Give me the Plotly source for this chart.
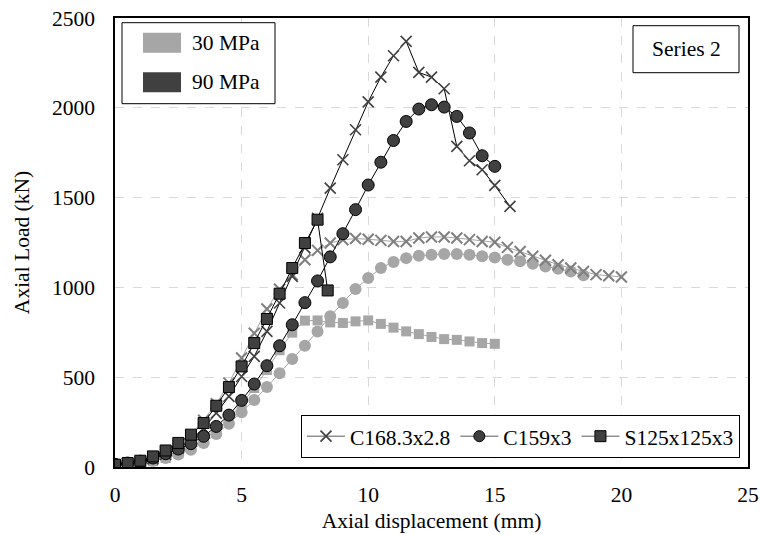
import plotly.graph_objects as go

# ---------------- data ----------------
x_c168_90 = [0, 0.5, 1, 1.5, 2, 2.5, 3, 3.5, 4, 4.5, 5, 5.5, 6, 6.5, 7, 7.5, 8, 8.5, 9, 9.5,
             10, 10.5, 11, 11.5, 12, 12.5, 13, 13.5, 14, 14.5, 15, 15.6]
y_c168_90 = [10, 18, 28, 45, 70, 105, 150, 215, 300, 393, 504, 616, 755, 913, 1061, 1220, 1385, 1553, 1711, 1878,
             2033, 2171, 2290, 2370, 2197, 2171, 2106, 1785, 1705, 1655, 1568, 1451]

x_c159_90 = [0, 0.5, 1, 1.5, 2, 2.5, 3, 3.5, 4, 4.5, 5, 5.5, 6, 6.5, 7, 7.5, 8, 8.5, 9, 9.5,
             10, 10.5, 11, 11.5, 12, 12.5, 13, 13.5, 14, 14.5, 15]
y_c159_90 = [15, 22, 32, 50, 74, 100, 130, 171, 226, 289, 371, 462, 564, 675, 792, 915, 1036, 1170, 1299, 1433,
             1570, 1697, 1818, 1924, 1993, 2017, 2004, 1952, 1860, 1733, 1674]

x_s125_90 = [0, 0.5, 1, 1.5, 2, 2.5, 3, 3.5, 4, 4.5, 5, 5.5, 6, 6.5, 7, 7.5, 8, 8.4]
y_s125_90 = [13, 22, 35, 59, 92, 134, 180, 245, 341, 445, 560, 690, 824, 965, 1108, 1247, 1377, 983]

x_c168_30 = [0, 0.5, 1, 1.5, 2, 2.5, 3, 3.5, 4, 4.5, 5, 5.5, 6, 6.5, 7, 7.5, 8, 8.5, 9, 9.5,
             10, 10.5, 11, 11.5, 12, 12.5, 13, 13.5, 14, 14.5, 15, 15.5, 16, 16.5, 17, 17.5, 18, 18.5,
             19, 19.5, 20]
y_c168_30 = [10, 18, 30, 50, 80, 120, 180, 260, 352, 467, 607, 745, 880, 990, 1071, 1154, 1206, 1247, 1265, 1272,
             1268, 1262, 1256, 1256, 1275, 1281, 1281, 1275, 1266, 1256, 1251, 1223, 1200, 1173, 1151, 1126, 1108, 1089,
             1071, 1065, 1058]

x_c159_30 = [0, 0.5, 1, 1.5, 2, 2.5, 3, 3.5, 4, 4.5, 5, 5.5, 6, 6.5, 7, 7.5, 8, 8.5, 9, 9.5,
             10, 10.5, 11, 11.5, 12, 12.5, 13, 13.5, 14, 14.5, 15, 15.5, 16, 16.5, 17, 17.5, 18, 18.5]
y_c159_30 = [8, 14, 22, 35, 50, 70, 96, 134, 184, 241, 305, 373, 445, 522, 601, 675, 755, 839, 913, 991,
             1052, 1108, 1142, 1163, 1176, 1182, 1186, 1186, 1182, 1173, 1167, 1154, 1145, 1132, 1117, 1104, 1089, 1067]

x_s125_30 = [0, 0.5, 1, 1.5, 2, 2.5, 3, 3.5, 4, 4.5, 5, 5.5, 6, 6.5, 7, 7.5, 8, 8.5, 9, 9.5,
             10, 10.5, 11, 11.5, 12, 12.5, 13, 13.5, 14, 14.5, 15]
y_s125_30 = [8, 12, 20, 32, 50, 75, 105, 150, 205, 270, 350, 440, 540, 650, 748, 815, 816, 805, 802, 811,
             816, 797, 776, 755, 740, 724, 712, 708, 699, 690, 686]

legend_names = ["C168.3x2.8", "C159x3", "S125x125x3"]
strength_labels = ["30 MPa", "90 MPa"]
x_ticks = [0, 5, 10, 15, 20, 25]
y_ticks = [0, 500, 1000, 1500, 2000, 2500]

# ---------------- style ----------------
FONT = "Times New Roman, Liberation Serif, serif"
FS = 21.5
DARK = "#404040"
GREY = "#a6a6a6"
GREYX = "#7f7f7f"

fig = go.Figure()

# 30 MPa series (grey)
fig.add_trace(go.Scatter(x=x_s125_30, y=y_s125_30, mode="lines+markers", showlegend=False,
                         line=dict(color=GREY, width=1),
                         marker=dict(symbol="square", size=10, color=GREY)))
fig.add_trace(go.Scatter(x=x_c159_30, y=y_c159_30, mode="lines+markers", showlegend=False,
                         line=dict(color=GREY, width=1),
                         marker=dict(symbol="circle", size=12, color=GREY)))
fig.add_trace(go.Scatter(x=x_c168_30, y=y_c168_30, mode="lines+markers", showlegend=False,
                         line=dict(color=GREY, width=1),
                         marker=dict(symbol="x-thin", size=11, color=GREYX,
                                     line=dict(color=GREYX, width=2))))
# 90 MPa series (dark)
fig.add_trace(go.Scatter(x=x_c168_90, y=y_c168_90, mode="lines+markers", showlegend=False,
                         line=dict(color="black", width=1),
                         marker=dict(symbol="x-thin", size=11, color=DARK,
                                     line=dict(color=DARK, width=1.6))))
fig.add_trace(go.Scatter(x=x_c159_90, y=y_c159_90, mode="lines+markers", showlegend=False,
                         line=dict(color="black", width=1),
                         marker=dict(symbol="circle", size=12, color=DARK,
                                     line=dict(color="black", width=1))))
fig.add_trace(go.Scatter(x=x_s125_90, y=y_s125_90, mode="lines+markers", showlegend=False,
                         line=dict(color="black", width=1),
                         marker=dict(symbol="square", size=11, color=DARK,
                                     line=dict(color="black", width=1))))

# legend-only entries
leg_symbols = ["x-thin", "circle", "square"]
for name, sym in zip(legend_names, leg_symbols):
    if sym == "x-thin":
        mk = dict(symbol=sym, size=11, color=DARK, line=dict(color=DARK, width=1.6))
    else:
        mk = dict(symbol=sym, size=11, color=DARK, line=dict(color="black", width=1))
    fig.add_trace(go.Scatter(x=[None], y=[None], mode="lines+markers", name=name,
                             line=dict(color="#595959", width=1), marker=mk))

# ---------------- helpers: screen pixel -> paper ----------------
PX0, PW, PY0, PH = 115, 633, 467.3, 449


def px(xp):
    return (xp - PX0) / PW


def py(yp):
    return (PY0 - yp) / PH


shapes = []
annotations = []
shapes.append(dict(type="rect", xref="paper", yref="paper",
                   x0=px(122), x1=px(275), y0=py(104), y1=py(23),
                   line=dict(color="black", width=1), fillcolor="white", layer="above"))
for lab, col, yc in zip(strength_labels, [GREY, DARK], [43, 82.5]):
    shapes.append(dict(type="rect", xref="paper", yref="paper",
                       x0=px(143), x1=px(181), y0=py(yc + 10), y1=py(yc - 10),
                       line=dict(width=0), fillcolor=col, layer="above"))
    annotations.append(dict(text=lab, xref="paper", yref="paper",
                            x=px(190), y=py(yc),
                            xanchor="left", yanchor="middle", showarrow=False,
                            font=dict(family=FONT, size=FS, color="black")))

# Series 2 box
shapes.append(dict(type="rect", xref="paper", yref="paper",
                   x0=px(633), x1=px(739), y0=py(73), y1=py(26),
                   line=dict(color="black", width=1), fillcolor="white", layer="above"))
annotations.append(dict(text="Series 2", xref="paper", yref="paper",
                        x=px(686), y=py(49.5),
                        xanchor="center", yanchor="middle", showarrow=False,
                        font=dict(family=FONT, size=FS, color="black")))

fig.update_layout(
    width=760, height=535,
    margin=dict(l=115, r=12, t=18, b=68),
    paper_bgcolor="white", plot_bgcolor="white",
    font=dict(family=FONT, size=FS, color="black"),
    shapes=shapes, annotations=annotations,
    legend=dict(orientation="h", x=px(740), xanchor="right",
                y=py(458), yanchor="bottom",
                bgcolor="white", bordercolor="black", borderwidth=1,
                font=dict(family=FONT, size=FS, color="black"),
                itemwidth=38, tracegroupgap=0),
    xaxis=dict(range=[0, 25], tickvals=x_ticks, ticktext=[str(v) for v in x_ticks],
               showgrid=True, gridcolor="#d9d9d9", griddash="dash", gridwidth=1,
               showline=True, linecolor="black", linewidth=1.5, mirror=True,
               zeroline=False, ticks="", ticklabelstandoff=7, automargin=False,
               title=dict(text="Axial displacement (mm)", standoff=7,
                          font=dict(family=FONT, size=FS))),
    yaxis=dict(range=[0, 2500], tickvals=y_ticks, ticktext=[str(v) for v in y_ticks],
               showgrid=True, gridcolor="#d9d9d9", griddash="dash", gridwidth=1,
               showline=True, linecolor="black", linewidth=1.5, mirror=True,
               zeroline=False, ticks="", ticklabelstandoff=14, automargin=False,
               title=dict(text="Axial Load (kN)", standoff=16,
                          font=dict(family=FONT, size=FS))),
)

# remove the default 8px page margin so the figure sits at the window's top-left corner
fig.write_html("out.html", config={"displayModeBar": False},
               post_script="document.body.style.margin='0';document.body.style.overflow='hidden';")
